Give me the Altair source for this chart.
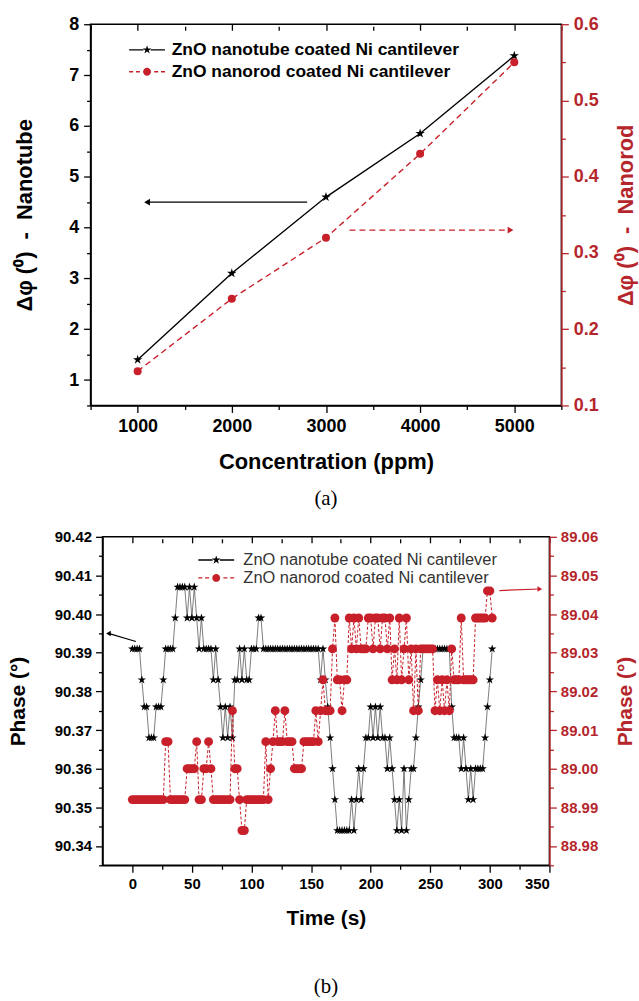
import altair as alt
import pandas as pd

# ---------------- data: panel (a) ----------------
conc_ppm = [1000, 2000, 3000, 4000, 5000]
dphi_nanotube = [1.40, 3.10, 4.60, 5.85, 7.38]
dphi_nanorod = [0.145, 0.240, 0.320, 0.430, 0.550]

# ---------------- data: panel (b) ----------------
time_s = list(range(0, 304, 2))
phase_nanotube = [
    90.391, 90.391, 90.391, 90.391, 90.383, 90.376, 90.376, 90.368, 90.368, 90.368,
    90.376, 90.376, 90.376, 90.383, 90.391, 90.391, 90.391, 90.391, 90.399, 90.407,
    90.407, 90.407, 90.407, 90.399, 90.407, 90.399, 90.407, 90.399, 90.391, 90.399,
    90.391, 90.391, 90.391, 90.391, 90.383, 90.391, 90.383, 90.376, 90.368, 90.376,
    90.368, 90.376, 90.368, 90.383, 90.383, 90.391, 90.383, 90.391, 90.383, 90.383,
    90.391, 90.391, 90.391, 90.399, 90.399, 90.391, 90.391, 90.391, 90.391, 90.391,
    90.391, 90.391, 90.391, 90.391, 90.391, 90.391, 90.391, 90.391, 90.391, 90.391,
    90.391, 90.391, 90.391, 90.391, 90.391, 90.391, 90.391, 90.391, 90.391, 90.383,
    90.391, 90.383, 90.376, 90.368, 90.360, 90.352, 90.344, 90.344, 90.344, 90.344,
    90.344, 90.344, 90.352, 90.344, 90.352, 90.360, 90.352, 90.360, 90.368, 90.368,
    90.376, 90.368, 90.376, 90.368, 90.376, 90.368, 90.368, 90.360, 90.368, 90.360,
    90.352, 90.344, 90.352, 90.344, 90.360, 90.344, 90.352, 90.360, 90.360, 90.368,
    90.376, 90.383, 90.391, 90.391, 90.391, 90.391, 90.391, 90.391, 90.391, 90.391,
    90.391, 90.391, 90.391, 90.391, 90.376, 90.368, 90.368, 90.368, 90.360, 90.368,
    90.360, 90.352, 90.360, 90.352, 90.360, 90.360, 90.360, 90.360, 90.368, 90.376,
    90.383, 90.391,
]
phase_nanorod = [
    88.992, 88.992, 88.992, 88.992, 88.992, 88.992, 88.992, 88.992, 88.992, 88.992,
    88.992, 88.992, 88.992, 88.992, 89.007, 89.007, 88.992, 88.992, 88.992, 88.992,
    88.992, 88.992, 88.992, 89.000, 89.000, 89.000, 89.000, 89.007, 88.992, 88.992,
    89.000, 89.000, 89.007, 89.000, 88.992, 88.992, 88.992, 88.992, 88.992, 88.992,
    88.992, 88.992, 89.015, 89.000, 89.000, 88.992, 88.984, 88.984, 88.992, 88.992,
    88.992, 88.992, 88.992, 88.992, 88.992, 88.992, 89.007, 88.992, 89.000, 89.007,
    89.015, 89.007, 89.007, 89.007, 89.015, 89.007, 89.007, 89.007, 89.000, 89.000,
    89.000, 89.000, 89.007, 89.007, 89.007, 89.007, 89.007, 89.015, 89.007, 89.015,
    89.023, 89.015, 89.015, 89.015, 89.031, 89.039, 89.023, 89.023, 89.015, 89.023,
    89.023, 89.039, 89.031, 89.039, 89.031, 89.039, 89.031, 89.031, 89.031, 89.039,
    89.039, 89.031, 89.039, 89.039, 89.031, 89.039, 89.039, 89.031, 89.039, 89.023,
    89.031, 89.023, 89.039, 89.023, 89.031, 89.039, 89.023, 89.031, 89.015, 89.031,
    89.015, 89.031, 89.031, 89.031, 89.031, 89.031, 89.031, 89.015, 89.023, 89.015,
    89.023, 89.015, 89.023, 89.015, 89.031, 89.023, 89.023, 89.023, 89.039, 89.023,
    89.023, 89.023, 89.023, 89.023, 89.039, 89.039, 89.039, 89.039, 89.039, 89.046,
    89.046, 89.039,
]

# annotation arrows (tail -> head)
arrow_a_tube_x, arrow_a_tube_y = [2800, 1100], [4.5, 4.5]
arrow_a_rod_x, arrow_a_rod_y = [3250, 4960], [0.33, 0.33]
arrow_b_tube_x, arrow_b_tube_y = [3, -20], [90.3929, 90.3950]
arrow_b_rod_x, arrow_b_rod_y = [308, 342], [89.0461, 89.0465]

names = ["ZnO nanotube coated Ni cantilever", "ZnO nanorod coated Ni cantilever"]

# ---------------- style ----------------
RED = "#c8202a"
AXRED = "#b5262c"
FONT = "Liberation Sans"
STAR = ("M0,-1L0.223,-0.307L0.951,-0.309L0.361,0.117L0.588,0.809L0,0.38"
        "L-0.588,0.809L-0.361,0.117L-0.951,-0.309L-0.223,-0.307Z")
LEG_STAR = ("M-4.5,-0.17H-0.9V0.17H-4.5Z M0.9,-0.17H4.5V0.17H0.9Z "
            "M0,-1.15L0.256,-0.353L1.094,-0.355L0.415,0.135L0.676,0.93L0,0.437"
            "L-0.676,0.93L-0.415,0.135L-1.094,-0.355L-0.256,-0.353Z")
LEG_CIRC = ("M-4.5,-0.17H-3.5V0.17H-4.5Z M-2.8,-0.17H-1.8V0.17H-2.8Z "
            "M1.8,-0.17H2.8V0.17H1.8Z M3.5,-0.17H4.5V0.17H3.5Z "
            "M-1,0A1,1,0,1,0,1,0A1,1,0,1,0,-1,0Z")


def legend_layer(lx, ly, bold, lab_color, size, row_pad, lab_off):
    df = pd.DataFrame({"series": names})
    leg = alt.Legend(title=None, orient="none", legendX=lx, legendY=ly,
                     labelFont=FONT, labelFontSize=size,
                     labelFontWeight="bold" if bold else "normal",
                     labelColor=lab_color, symbolSize=64, symbolStrokeWidth=0,
                     labelOffset=lab_off, rowPadding=row_pad, padding=0, labelLimit=500)
    return alt.Chart(df).mark_point(filled=True, opacity=1).encode(
        color=alt.Color("series:N", scale=alt.Scale(domain=names, range=["black", RED]), legend=leg),
        shape=alt.Shape("series:N", scale=alt.Scale(domain=names, range=[LEG_STAR, LEG_CIRC]), legend=leg),
    ).transform_filter("datum.series == 'none'")


def tick_len(test, major, minor):
    return {"condition": {"test": test, "value": major}, "value": minor}


# ---------------- panel (a) ----------------
xa_vals = [500 * i for i in range(1, 12)]
ya_vals = [0.5 * i for i in range(1, 17)]
yr_vals = [round(0.1 + 0.05 * i, 2) for i in range(0, 11)]

T_XA = "datum.value % 1000 == 0"
T_YA = "datum.value % 1 == 0"
T_YRA = "abs(datum.value * 10 - round(datum.value * 10)) < 0.001"

ax_x_a = alt.Axis(values=xa_vals, title="Concentration (ppm)",
                  labelExpr=f"{T_XA} ? format(datum.value, 'd') : ''",
                  tickSize=tick_len(T_XA, 7, 4), labelPadding=5, titlePadding=16,
                  labelFontSize=18, titleFontSize=22)
ax_top_a = alt.Axis(values=xa_vals, orient="top", labels=False, domain=False, title=None,
                    tickSize=tick_len(T_XA, 6, 4), offset=-6)
ax_yl_a = alt.Axis(values=ya_vals, title="Δφ (⁰)\u00a0 -\u00a0 Nanotube", orient="left",
                   labelExpr=f"{T_YA} ? format(datum.value, 'd') : ''",
                   tickSize=tick_len(T_YA, 7, 4), labelPadding=5,
                   titlePadding=32, labelFontSize=18, titleFontSize=22)
ax_yr_a = alt.Axis(values=yr_vals, title="Δφ (⁰)\u00a0 -\u00a0 Nanorod", orient="right",
                   labelExpr=f"{T_YRA} ? format(datum.value, '.1f') : ''",
                   tickSize=tick_len(T_YRA, 7, 4), labelPadding=5,
                   titlePadding=17, titleAngle=270, titleBaseline="top",
                   labelFontSize=18, titleFontSize=22,
                   domainColor=AXRED, tickColor=AXRED, labelColor=AXRED, titleColor=AXRED)

sx_a = alt.Scale(domain=[500, 5500], nice=False, zero=False)
syl_a = alt.Scale(domain=[0.5, 8], nice=False, zero=False)
syr_a = alt.Scale(domain=[0.1, 0.6], nice=False, zero=False)

df_a_tube = pd.DataFrame({"x": conc_ppm, "y": dphi_nanotube})
df_a_rod = pd.DataFrame({"x": conc_ppm, "y": dphi_nanorod})
df_a_arr_t = pd.DataFrame({"x": [arrow_a_tube_x[0]], "x2": [arrow_a_tube_x[1]], "y": [arrow_a_tube_y[0]]})
df_a_head_t = pd.DataFrame({"x": [arrow_a_tube_x[1]], "y": [arrow_a_tube_y[1]]})
df_a_arr_r = pd.DataFrame({"x": [arrow_a_rod_x[0]], "x2": [arrow_a_rod_x[1]], "y": [arrow_a_rod_y[0]]})
df_a_head_r = pd.DataFrame({"x": [arrow_a_rod_x[1]], "y": [arrow_a_rod_y[1]]})

XA = alt.X("x:Q", scale=sx_a, axis=ax_x_a)
XA_T = alt.X("x:Q", scale=sx_a, axis=ax_top_a)
YLA = alt.Y("y:Q", scale=syl_a, axis=ax_yl_a)
YRA = alt.Y("y:Q", scale=syr_a, axis=ax_yr_a)

left_a = alt.layer(
    alt.Chart(df_a_tube).mark_line(color="black", strokeWidth=1.4).encode(x=XA, y=YLA),
    alt.Chart(df_a_tube).mark_point(filled=True, shape=STAR, size=100, color="black", opacity=1).encode(x=XA, y=YLA),
    alt.Chart(df_a_arr_t).mark_rule(color="black", strokeWidth=1.4).encode(x=XA, x2="x2:Q", y=YLA),
    alt.Chart(df_a_head_t).mark_point(filled=True, shape="triangle-left", size=45, color="black", opacity=1).encode(x=XA, y=YLA),
    legend_layer(48, 17, True, "black", 17.5, 3, 16),
)
right_a = alt.layer(
    alt.Chart(df_a_rod).mark_line(color=RED, strokeWidth=1.4, strokeDash=[6, 4]).encode(x=XA_T, y=YRA),
    alt.Chart(df_a_rod).mark_circle(size=65, color=RED, opacity=1).encode(x=XA_T, y=YRA),
    alt.Chart(df_a_arr_r).mark_rule(color=RED, strokeWidth=1.4, strokeDash=[6, 4]).encode(x=XA_T, x2="x2:Q", y=YRA),
    alt.Chart(df_a_head_r).mark_point(filled=True, shape="triangle-right", size=45, color=RED, opacity=1).encode(x=XA_T, y=YRA),
)
panel_a = alt.layer(left_a, right_a).resolve_scale(y="independent").resolve_axis(x="independent").properties(
    width=473, height=383,
    title=alt.TitleParams("(a)", orient="bottom", font="Liberation Serif", fontSize=21,
                          fontWeight="normal", color="black", offset=16),
)

# ---------------- panel (b) ----------------
xb_vals = [25 * i for i in range(0, 15)]
yb_vals = [round(90.335 + 0.005 * i, 3) for i in range(0, 18)]
yrb_vals = [round(88.975 + 0.005 * i, 3) for i in range(0, 18)]

T_XB = "datum.value % 50 == 0"
T_YB = "abs(datum.value * 100 - round(datum.value * 100)) < 0.01"

ax_x_b = alt.Axis(values=xb_vals, title="Time (s)",
                  labelExpr=f"{T_XB} ? format(datum.value, 'd') : ''",
                  tickSize=tick_len(T_XB, 7, 4), labelPadding=4, titlePadding=16,
                  labelFontSize=15, titleFontSize=21)
ax_top_b = alt.Axis(values=xb_vals, orient="top", labels=False, domain=False, title=None,
                    tickSize=tick_len(T_XB, 6, 4), offset=-6)
ax_yl_b = alt.Axis(values=yb_vals, title="Phase (°)", orient="left",
                   labelExpr=f"{T_YB} ? format(datum.value, '.2f') : ''",
                   tickSize=tick_len(T_YB, 7, 4), labelPadding=4,
                   titlePadding=26, labelFontSize=15, titleFontSize=21)
ax_yr_b = alt.Axis(values=yrb_vals, title="Phase (°)", orient="right",
                   labelExpr=f"{T_YB} ? format(datum.value, '.2f') : ''",
                   tickSize=tick_len(T_YB, 7, 4), labelPadding=4,
                   titlePadding=17, titleAngle=270, titleBaseline="top",
                   labelFontSize=15, titleFontSize=21,
                   domainColor=AXRED, tickColor=AXRED, labelColor=AXRED, titleColor=AXRED)

sx_b = alt.Scale(domain=[-25, 350], nice=False, zero=False)
syl_b = alt.Scale(domain=[90.335, 90.42], nice=False, zero=False)
syr_b = alt.Scale(domain=[88.975, 89.06], nice=False, zero=False)

df_b_tube = pd.DataFrame({"x": time_s, "y": phase_nanotube})
df_b_rod = pd.DataFrame({"x": time_s, "y": phase_nanorod})
df_b_arr_t = pd.DataFrame({"x": [arrow_b_tube_x[0]], "x2": [arrow_b_tube_x[1]],
                           "y": [arrow_b_tube_y[0]], "y2": [arrow_b_tube_y[1]]})
df_b_head_t = pd.DataFrame({"x": [arrow_b_tube_x[1]], "y": [arrow_b_tube_y[1]]})
df_b_arr_r = pd.DataFrame({"x": [arrow_b_rod_x[0]], "x2": [arrow_b_rod_x[1]],
                           "y": [arrow_b_rod_y[0]], "y2": [arrow_b_rod_y[1]]})
df_b_head_r = pd.DataFrame({"x": [arrow_b_rod_x[1]], "y": [arrow_b_rod_y[1]]})

XB = alt.X("x:Q", scale=sx_b, axis=ax_x_b)
XB_T = alt.X("x:Q", scale=sx_b, axis=ax_top_b)
YLB = alt.Y("y:Q", scale=syl_b, axis=ax_yl_b)
YRB = alt.Y("y:Q", scale=syr_b, axis=ax_yr_b)

left_b = alt.layer(
    alt.Chart(df_b_tube).mark_line(color="#444444", strokeWidth=0.7).encode(x=XB, y=YLB),
    alt.Chart(df_b_tube).mark_point(filled=True, shape=STAR, size=80, color="black", opacity=1).encode(x=XB, y=YLB),
    alt.Chart(df_b_arr_t).mark_rule(color="black", strokeWidth=1.2).encode(x=XB, x2="x2:Q", y=YLB, y2="y2:Q"),
    alt.Chart(df_b_head_t).mark_point(filled=True, shape="triangle-left", size=30, color="black", opacity=1).encode(x=XB, y=YLB),
    legend_layer(106, 15, False, "#333333", 16.5, 1, 19),
)
right_b = alt.layer(
    alt.Chart(df_b_rod).mark_line(color=RED, strokeWidth=1.0, strokeDash=[3, 2]).encode(x=XB_T, y=YRB),
    alt.Chart(df_b_rod).mark_circle(size=80, color=RED, opacity=1).encode(x=XB_T, y=YRB),
    alt.Chart(df_b_arr_r).mark_rule(color=RED, strokeWidth=1.2).encode(x=XB_T, x2="x2:Q", y=YRB, y2="y2:Q"),
    alt.Chart(df_b_head_r).mark_point(filled=True, shape="triangle-right", size=30, color=RED, opacity=1).encode(x=XB_T, y=YRB),
)
panel_b = alt.layer(left_b, right_b).resolve_scale(y="independent").resolve_axis(x="independent").properties(
    width=449, height=330,
    title=alt.TitleParams("(b)", orient="bottom", font="Liberation Serif", fontSize=21,
                          fontWeight="normal", color="black", offset=48),
)

chart = alt.vconcat(panel_a, panel_b, spacing=132, center=True, bounds="flush").resolve_scale(
    color="independent", shape="independent"
).properties(
    padding={"left": 6, "top": 12, "right": 2, "bottom": 2},
    background="white",
).configure_view(
    stroke="black", strokeWidth=1.5
).configure_axis(
    labelFont=FONT, labelFontWeight="bold", labelColor="black",
    titleFont=FONT, titleFontWeight="bold", titleColor="black",
    domainColor="black", domainWidth=1.5, tickColor="black", tickWidth=1.3,
    grid=False,
)

chart.save("out.html", embed_options={"renderer": "svg", "actions": False})
